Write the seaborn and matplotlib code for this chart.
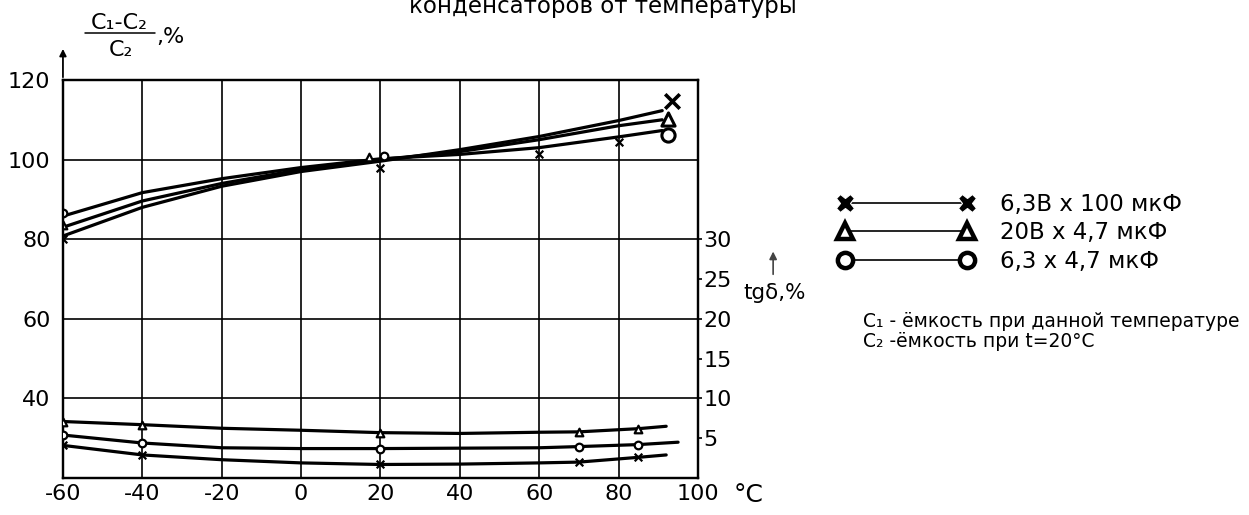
import matplotlib
matplotlib.use("Agg")
import matplotlib.pyplot as plt
import seaborn as sns
import pandas as pd
from matplotlib.lines import Line2D

# capacitance change, % (left axis)
cap_temps = [-60, -40, -20, 0, 20, 40, 60, 80, 91]
cap_x = [80.8, 88.0, 93.3, 97.0, 99.6, 102.5, 105.8, 109.8, 112.3]
cap_tri = [83.0, 89.6, 94.0, 97.5, 100.0, 102.0, 105.0, 108.5, 110.0]
cap_o = [85.8, 91.7, 95.2, 98.0, 100.2, 101.3, 103.0, 105.7, 107.3]

# tg delta, % (right axis)
tg_temps_x = [-60, -40, -20, 0, 20, 40, 60, 70, 85, 92]
tg_x = [4.1, 2.9, 2.3, 1.9, 1.7, 1.75, 1.9, 2.0, 2.6, 2.9]
tg_temps_tri = [-60, -40, -20, 0, 20, 40, 60, 70, 85, 92]
tg_tri = [7.1, 6.7, 6.25, 6.0, 5.7, 5.6, 5.75, 5.8, 6.2, 6.5]
tg_temps_o = [-60, -40, -20, 0, 20, 40, 60, 70, 85, 95]
tg_o = [5.4, 4.4, 3.8, 3.7, 3.7, 3.75, 3.8, 3.95, 4.2, 4.5]

# measured points marked on the curves
tg_mark_t = [-60, -40, 20, 70, 85]
cap_mark_x_t = [-60, 20, 60, 80]
cap_mark_x = [80.0, 97.8, 101.5, 104.3]
cap_mark_tri_t = [-60, 17]
cap_mark_tri = [83.5, 100.6]
cap_mark_o_t = [-60, 21]
cap_mark_o = [86.5, 100.8]
end_t = [93.5, 92.5, 92.5]
end_vals = [114.6, 110.2, 106.2]

legend_labels = ['6,3В x 100 мкФ', '20В x 4,7 мкФ', '6,3 x 4,7 мкФ']
x_ticks = [-60, -40, -20, 0, 20, 40, 60, 80, 100]
y_ticks = [40, 60, 80, 100, 120]
tg_ticks = [5, 10, 15, 20, 25, 30]

sns.set_style('white')
plt.rcParams['font.family'] = ['DejaVu Sans']
plt.rcParams['text.color'] = 'black'
plt.rcParams['xtick.color'] = 'black'
plt.rcParams['ytick.color'] = 'black'

fig = plt.figure(figsize=(12.49, 5.15), dpi=100)
ax = fig.add_axes([0.0504, 0.0718, 0.5084, 0.7729])
ax2 = ax.twinx()

lw = 2.3
for vals in [cap_x, cap_tri, cap_o]:
    sns.lineplot(x=cap_temps, y=vals, ax=ax, color='black', lw=lw, estimator=None, sort=False)

sns.scatterplot(x=cap_mark_x_t, y=cap_mark_x, ax=ax, marker='x', s=30, color='black', linewidth=1.6, zorder=5)
sns.scatterplot(x=cap_mark_tri_t, y=cap_mark_tri, ax=ax, marker='^', s=30, facecolor='white',
                edgecolor='black', linewidth=1.6, zorder=5)
sns.scatterplot(x=cap_mark_o_t, y=cap_mark_o, ax=ax, marker='o', s=30, facecolor='white',
                edgecolor='black', linewidth=1.6, zorder=5)

# big markers at the ends of the capacitance curves
sns.scatterplot(x=[end_t[0]], y=[end_vals[0]], ax=ax, marker='x', s=110, color='black', linewidth=2.6, zorder=5)
sns.scatterplot(x=[end_t[1]], y=[end_vals[1]], ax=ax, marker='^', s=90, facecolor='white',
                edgecolor='black', linewidth=2.2, zorder=5)
sns.scatterplot(x=[end_t[2]], y=[end_vals[2]], ax=ax, marker='o', s=90, facecolor='white',
                edgecolor='black', linewidth=2.2, zorder=5)

for t, vals, m in [(tg_temps_x, tg_x, 'x'), (tg_temps_tri, tg_tri, '^'), (tg_temps_o, tg_o, 'o')]:
    sns.lineplot(x=t, y=vals, ax=ax2, color='black', lw=lw, estimator=None, sort=False)
    s = pd.Series(vals, index=t)
    pts = s.loc[tg_mark_t]
    if m == 'x':
        sns.scatterplot(x=pts.index, y=pts.values, ax=ax2, marker='x', s=30, color='black', linewidth=1.6, zorder=5)
    else:
        sns.scatterplot(x=pts.index, y=pts.values, ax=ax2, marker=m, s=30, facecolor='white',
                        edgecolor='black', linewidth=1.6, zorder=5)

ax.set_xlim(-60, 100)
ax.set_ylim(20, 120)
ax2.set_ylim(0, 50)
ax.set_xticks(x_ticks)
ax.set_xticklabels([str(v) for v in x_ticks], fontsize=16)
ax.set_yticks(y_ticks)
ax.set_yticklabels([str(v) for v in y_ticks], fontsize=16)
ax.tick_params(axis='x', length=0, pad=4)
ax.tick_params(axis='y', length=0, pad=9)
ax.set_xlabel('')
ax.set_ylabel('')

ax2.set_yticks(tg_ticks)
ax2.set_yticklabels([str(v) for v in tg_ticks], fontsize=16)
ax2.tick_params(axis='y', length=3, width=1.2, direction='out', pad=1, color='black')
ax2.set_ylabel('')

ax.grid(True, color='black', lw=1.2)
ax2.grid(False)
for a in [ax, ax2]:
    for sp in a.spines.values():
        sp.set_visible(True)
        sp.set_color('black')
        sp.set_linewidth(1.6)

# axis arrow for the left scale
ax.annotate('', xy=(0, 1.085), xytext=(0, 1.0), xycoords='axes fraction',
            arrowprops=dict(arrowstyle='-|>', color='black', lw=1.3, mutation_scale=10))

# left axis label as fraction
fig.text(0.0955, 0.955, 'C₁-C₂', fontsize=16, ha='center', va='center')
fig.add_artist(Line2D([0.068, 0.124], [0.936, 0.936], color='black', lw=1.1))
fig.text(0.0965, 0.903, 'C₂', fontsize=16, ha='center', va='center')
fig.text(0.125, 0.928, ',%', fontsize=16, ha='left', va='center')

fig.text(0.599, 0.039, '°C', fontsize=18, ha='center', va='center')

# tg delta label with arrow
ax.annotate('', xy=(0.619, 0.517), xytext=(0.619, 0.462), xycoords='figure fraction',
            arrowprops=dict(arrowstyle='-|>', color='#444444', lw=1.2, mutation_scale=11))
fig.text(0.62, 0.431, 'tgδ,%', fontsize=15.5, ha='center', va='center')

fig.text(0.483, 0.975, 'конденсаторов от температуры', fontsize=16.5, ha='center', va='baseline')

handles = [
    Line2D([], [], color='black', lw=1.2, marker='X', markersize=13, markerfacecolor='black',
           markeredgecolor='white', markeredgewidth=0.8),
    Line2D([], [], color='black', lw=1.2, marker='^', markersize=12, markerfacecolor='white',
           markeredgecolor='black', markeredgewidth=3.2),
    Line2D([], [], color='black', lw=1.2, marker='o', markersize=11, markerfacecolor='white',
           markeredgecolor='black', markeredgewidth=3.2),
]
fig.legend(handles, legend_labels, loc='center left', bbox_to_anchor=(0.6549, 0.548), frameon=False,
           numpoints=2, handlelength=5.9, handletextpad=1.13, labelspacing=0.25, fontsize=16.5)

fig.text(0.691, 0.375, 'С₁ - ёмкость при данной температуре', fontsize=13.5, ha='left', va='center')
fig.text(0.691, 0.336, 'С₂ -ёмкость при t=20°C', fontsize=13.5, ha='left', va='center')

fig.savefig('out.png', dpi=100)
